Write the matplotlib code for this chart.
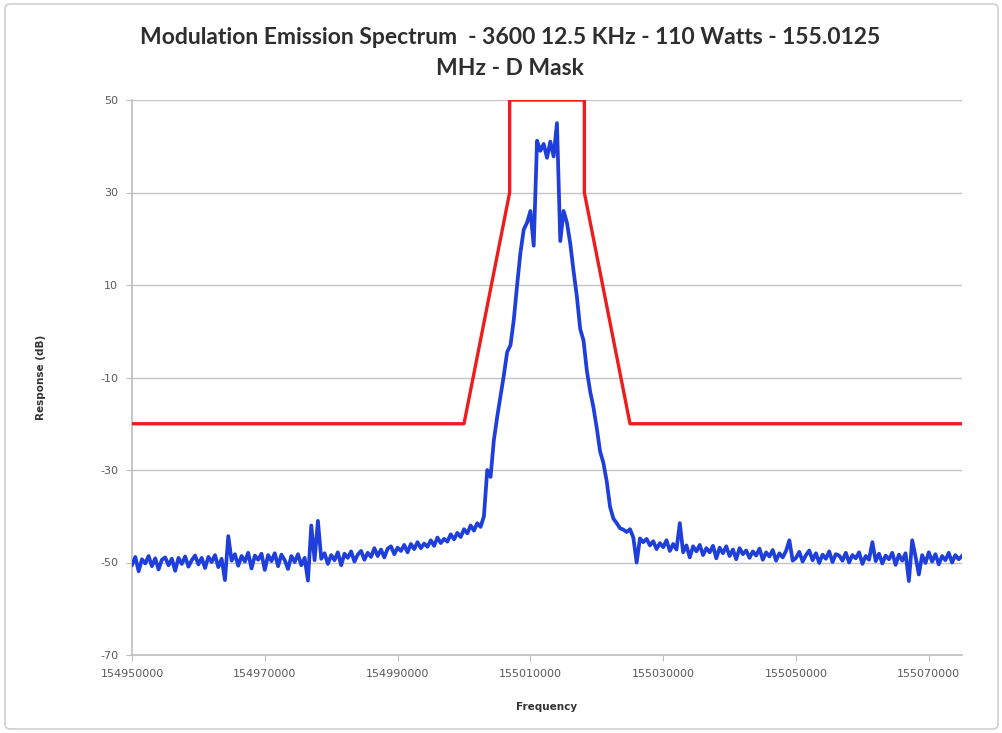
"""
Modulation emission spectrum of a 12.5 kHz channel against the FCC D mask.

Blue trace = measured response; red = emission mask limits.

    python3 plot.py
"""

from __future__ import annotations

import matplotlib

matplotlib.use("Agg")

import matplotlib.pyplot as plt
import numpy as np
from matplotlib.patches import FancyBboxPatch

CENTER_HZ = 155012500
SPAN_KHZ = (-62.5, 62.5)

# measured response, one reading every 0.5 kHz from -62.5 kHz to +62.5 kHz
response_db = [
    -50.5, -48.8, -51.9, -49.3, -50.2, -48.6, -50.8, -49.1, -51.5, -49.4,
    -48.9, -50.6, -49.2, -51.8, -49.0, -50.3, -48.7, -50.9, -49.5, -48.5,
    -50.4, -49.0, -51.2, -48.8, -49.9, -48.4, -51.0, -49.2, -53.8, -44.3,
    -49.6, -48.2, -50.7, -48.6, -49.8, -47.9, -51.3, -48.5, -49.4, -48.1,
    -51.6, -48.4, -49.7, -48.0, -50.8, -48.3, -49.5, -51.4, -48.6, -49.9,
    -48.2, -50.6, -49.0, -53.9, -42.0, -49.5, -41.0, -49.2, -48.0, -50.3,
    -48.4, -49.5, -47.8, -50.6, -48.1, -49.0, -47.6, -49.8, -48.3, -47.5,
    -49.4, -47.9, -48.8, -46.9, -48.6, -47.2, -48.9, -47.0, -46.5, -48.2,
    -46.8, -47.5, -46.2, -47.8, -46.0, -47.1, -45.6, -46.9, -45.9, -46.6,
    -45.2, -46.4, -44.6, -45.8, -44.9, -45.5, -43.9, -45.0, -43.6, -44.5,
    -42.8, -43.7, -42.0, -43.1, -41.5, -42.3, -40.0, -30.0, -31.5, -23.5,
    -18.5, -14.0, -9.5, -4.5, -3.0, 2.5, 10.0, 17.0, 22.0, 23.5,
    26.0, 18.5, 41.2, 39.0, 40.5, 37.5, 41.0, 37.8, 45.0, 19.5,
    26.0, 23.5, 19.0, 13.0, 7.5, 0.5, -2.0, -8.5, -13.0, -16.5,
    -21.0, -26.0, -28.5, -32.5, -38.0, -40.5, -41.5, -42.6, -42.9, -43.4,
    -42.8, -44.6, -50.0, -44.8, -45.6, -44.9, -46.3, -45.4, -47.1, -45.8,
    -46.7, -45.2, -47.5, -46.0, -47.2, -41.5, -47.8, -46.3, -48.9, -46.5,
    -47.6, -46.2, -48.4, -46.9, -47.8, -46.4, -49.1, -46.8, -48.0, -46.5,
    -48.6, -47.2, -49.3, -46.9, -48.2, -47.4, -49.0, -47.6, -48.5, -47.0,
    -49.4, -47.8, -48.7, -47.3, -49.6, -48.0, -48.9, -47.5, -45.2, -49.6,
    -49.0, -47.7, -49.8, -48.4, -47.4, -49.5, -48.0, -50.1, -48.3, -49.2,
    -47.6, -49.9, -48.2, -48.5, -49.6, -47.9, -50.0, -48.4, -49.1, -47.8,
    -50.3, -48.6, -49.4, -45.6, -49.7, -48.1, -50.2, -48.5, -49.3, -47.9,
    -50.5, -48.3, -49.6, -48.0, -54.0, -45.2, -48.7, -52.6, -48.4, -50.1,
    -47.8, -49.8, -48.2, -50.4, -48.6, -49.5, -47.9, -50.0, -48.4, -49.3,
    -48.6,
]

# D mask corners (offset from carrier in kHz, limit in dB)
mask_offset_khz = [-62.5, -12.5, -5.625, -5.625, 5.625, 5.625, 12.5, 62.5]
mask_db = [-20, -20, 30, 50, 50, 30, -20, -20]

x_ticks = [154950000, 154970000, 154990000, 155010000, 155030000, 155050000, 155070000]
y_ticks = [-70, -50, -30, -10, 10, 30, 50]

TITLE = (
    "Modulation Emission Spectrum  - 3600 12.5 KHz - 110 Watts - 155.0125\n"
    "MHz - D Mask"
)

fig = plt.figure(figsize=(10.02, 7.33), dpi=100)
fig.add_artist(
    FancyBboxPatch(
        (5 / 1002, 4 / 733), 993 / 1002, 725 / 733,
        boxstyle="round,pad=0,rounding_size=0.006",
        transform=fig.transFigure, facecolor="none",
        edgecolor="#cfcfcf", linewidth=1.2,
    )
)

ax = fig.add_axes([132 / 1002, 78 / 733, 830 / 1002, 555 / 733])

freq_hz = CENTER_HZ + 1000 * np.linspace(SPAN_KHZ[0], SPAN_KHZ[1], len(response_db))
mask_hz = [CENTER_HZ + 1000 * k for k in mask_offset_khz]

ax.plot(freq_hz, response_db, color="#1f3fdc", linewidth=2.7, zorder=3)
ax.plot(mask_hz, mask_db, color="#ee1c1c", linewidth=2.4, zorder=4)

ax.set_xlim(CENTER_HZ + 1000 * SPAN_KHZ[0], CENTER_HZ + 1000 * SPAN_KHZ[1])
ax.set_ylim(-70, 50)
ax.set_xticks(x_ticks)
ax.set_xticklabels([str(t) for t in x_ticks])
ax.set_yticks(y_ticks)
ax.set_yticklabels([str(t) for t in y_ticks])

ax.grid(True, axis="y", color="#c4c4c4", linewidth=1.0)
ax.set_axisbelow(True)
for side in ("top", "right"):
    ax.spines[side].set_visible(False)
for side in ("left", "bottom"):
    ax.spines[side].set_color("#bdbdbd")
    ax.spines[side].set_linewidth(1.2)
ax.tick_params(axis="both", direction="out", length=4, color="#bdbdbd",
               labelsize=8, labelcolor="#595959", pad=6)

ax.set_xlabel("Frequency", fontsize=7.5, fontweight="bold", color="#333333", labelpad=17)
ax.set_ylabel("Response (dB)", fontsize=7.5, fontweight="bold", color="#333333", labelpad=39)

fig.text(0.509, 0.963, TITLE, ha="center", va="top", fontsize=16.5,
         fontweight="bold", family="Lato", color="#2e2e2e", linespacing=1.6)

fig.savefig("out.png", dpi=100)
